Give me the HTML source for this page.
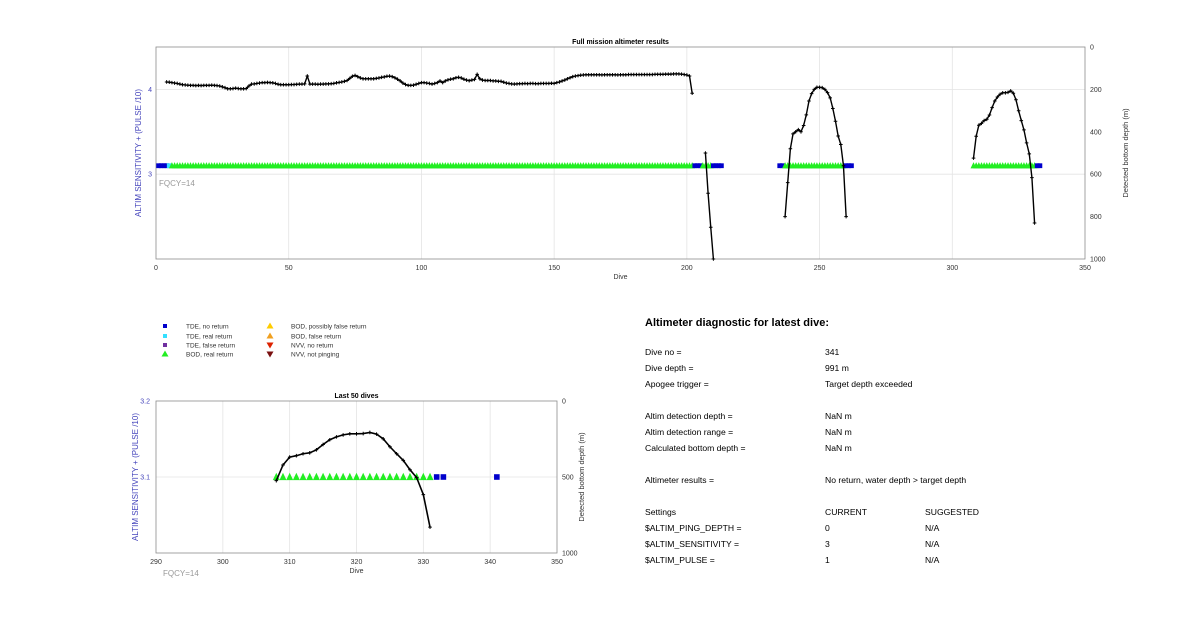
<!DOCTYPE html>
<html><head><meta charset="utf-8"><style>
html,body{margin:0;padding:0;background:#fff;width:1200px;height:622px;overflow:hidden;font-family:"Liberation Sans",sans-serif}
svg{position:absolute;left:0;top:0}
</style></head><body>
<svg id="svg" width="1200" height="622" viewBox="0 0 1200 622" font-family="Liberation Sans, sans-serif"></svg>
<script>
// ---- data ----
const topLineStart = 4;
const topLineDepths = [165,166,168,170,172,175,
178,179,180,181,181,182,181,182,181,181,
181,180,181,182,184,188,192,197,197,196,
194,196,197,197,196,184,175,174,172,170,
168,168,167,168,169,172,176,178,178,178,
178,177,177,176,175,175,174,137,175,175,
175,176,175,175,174,174,173,172,169,167,
165,162,158,148,138,134,140,146,150,150,
150,150,150,148,146,143,141,138,137,140,
145,152,160,170,177,181,181,180,176,172,
168,168,170,172,175,172,168,160,168,160,
155,152,150,145,143,146,152,156,159,156,
153,129,150,156,158,158,158,160,160,162,
162,166,170,172,174,175,174,173,173,172,
173,172,172,173,173,172,172,172,172,171,
172,168,165,160,156,150,145,140,137,135,
133,132,131,131,131,131,131,131,132,131,
131,131,131,131,132,131,131,131,130,130,
130,130,130,130,130,130,130,130,129,129,
129,129,128,128,128,127,127,127,128,130,
132,137,218];
const seg2Dives = [207,208,209,210];
const seg2Depths = [500,690,850,1000];
const seg3Dives = [237,238,239,240,241,242,243,244,245,246,247,248,249,250,251,252,253,254,255,256,257,258,259,260];
const seg3Depths = [800,640,480,410,400,390,400,370,320,255,220,200,190,190,192,200,215,240,290,350,420,460,560,800];
const seg4Dives = [308,309,310,311,312,313,314,315,316,317,318,319,320,321,322,323,324,325,326,327,328,329,330,331];
const seg4Depths = [524,421,369,360,347,341,321,286,255,236,223,216,216,214,207,218,249,301,347,391,452,504,616,830];
// marker runs: [firstDive, lastDive, type]
const markerRuns = [[1,4,'tdeNo'],[5,5,'tdeReal'],[6,202,'bodReal'],[203,205,'tdeNo'],[206,209,'bodReal'],[210,213,'tdeNo'],
[235,236,'tdeNo'],[237,259,'bodReal'],[260,262,'tdeNo'],[308,331,'bodReal'],[332,333,'tdeNo'],[341,341,'tdeNo']];
const markerValue = 3.1;
const topXTicks = [0,50,100,150,200,250,300,350];
const topLeftTicks = [3,4];
const rightTicks = [0,200,400,600,800,1000];
const botXTicks = [290,300,310,320,330,340,350];
const botLeftTicks = [3.1,3.2];
const botRightTicks = [0,500,1000];

const NS='http://www.w3.org/2000/svg';
const svg=document.getElementById('svg');
function el(tag,attrs,parent){const e=document.createElementNS(NS,tag);for(const k in attrs)e.setAttribute(k,attrs[k]);(parent||svg).appendChild(e);return e;}
function txt(s,x,y,attrs,parent){const t=el('text',Object.assign({x:x,y:y,'font-size':7,fill:'#333'},attrs),parent);t.textContent=s;return t;}
const colors={tdeNo:'#0000cc',tdeReal:'#33e0ff',bodReal:'#22ee22'};

function makeAxes(cfg){
  const g=el('g',{});
  
  
  const X=d=>cfg.x0+(d-cfg.xmin)/(cfg.xmax-cfg.xmin)*(cfg.x1-cfg.x0);
  const YL=v=>cfg.y1-(v-cfg.lmin)/(cfg.lmax-cfg.lmin)*(cfg.y1-cfg.y0);
  const YR=v=>cfg.y0+(v-cfg.rmin)/(cfg.rmax-cfg.rmin)*(cfg.y1-cfg.y0);
  cfg.xTicks.forEach(t=>{const x=X(t);
    if(t>cfg.xmin&&t<cfg.xmax){const l=el('line',{x1:x,x2:x,y1:cfg.y0,y2:cfg.y1,stroke:'#e4e4e4','stroke-width':0.8},g);}
    const tl=txt(String(t),x,cfg.y1+11,{'text-anchor':'middle'},g);});
  cfg.lTicks.forEach(t=>{const y=YL(t);
    if(y>cfg.y0+1){const l=el('line',{x1:cfg.x0,x2:cfg.x1,y1:y,y2:y,stroke:'#e4e4e4','stroke-width':0.8},g);}
    const tl=txt(String(t),cfg.x0-cfg.lto,y+2.5,{'text-anchor':'end',fill:'#4444bb'},g);});
  cfg.rTicks.forEach(t=>{const y=YR(t);
    const tl=txt(String(t),cfg.x1+5,y+2.5,{},g);});
  const r=el('rect',{x:cfg.x0,y:cfg.y0,width:cfg.x1-cfg.x0,height:cfg.y1-cfg.y0,fill:'none',stroke:'#8c8c8c','stroke-width':0.8},g);
  
  // markers
  const mg=el('g',{},g);
  const ym=YL(markerValue);const s=cfg.ms;
  markerRuns.forEach(run=>{for(let d=run[0];d<=run[1];d++){ if(d<cfg.dmin||d>cfg.dmax)continue;
    const x=X(d);let m;
    if(run[2]==='bodReal'){m=el('polygon',{points:`${x},${ym-s*0.6} ${x-s/2},${ym+s*0.45} ${x+s/2},${ym+s*0.45}`,fill:colors.bodReal},mg);}
    else{m=el('rect',{x:x-s*0.4,y:ym-s*0.4,width:s*0.8,height:s*0.8,fill:colors[run[2]]},mg);}
    }});
  // lines
  function line(dives,depths,name){
    const pts=dives.map((d,i)=>[X(d),YR(depths[i])]).filter(p=>p[0]>=cfg.x0-1);
    if(!pts.length)return;
    const p=el('polyline',{points:pts.map(p=>p.join(',')).join(' '),fill:'none',stroke:'#000','stroke-width':cfg.lw},g);
    
    pts.forEach(q=>{const k=el('path',{d:`M${q[0]-1.8},${q[1]}h3.6M${q[0]},${q[1]-1.8}v3.6`,stroke:'#000','stroke-width':1},g);
      });
  }
  cfg.lines.forEach((l,i)=>line(l[0],l[1],'depth-line-'+(i+1)));
  const tt=txt(cfg.title,(cfg.x0+cfg.x1)/2,cfg.y0-3,{'text-anchor':'middle','font-weight':'bold',fill:'#000'},g);
  const xl=txt('Dive',(cfg.x0+cfg.x1)/2,cfg.y1+20,{'text-anchor':'middle'},g);
  const cy=(cfg.y0+cfg.y1)/2;
  const ll=txt('ALTIM SENSITIVITY + (PULSE /10)',cfg.x0-cfg.ylo,cy,{'text-anchor':'middle',fill:'#4444bb','font-size':8,transform:`rotate(-90 ${cfg.x0-cfg.ylo} ${cy})`},g);
  const rl=txt('Detected bottom depth (m)',cfg.x1+cfg.yro,cy,{'text-anchor':'middle','font-size':7.5,transform:`rotate(-90 ${cfg.x1+cfg.yro} ${cy})`},g);
  const fq=txt('FQCY=14',cfg.fqx,cfg.fqy,{fill:'#999','font-size':8},g);
}
const topDives=topLineDepths.map((_,i)=>topLineStart+i);
makeAxes({name:'full-mission-chart',x0:156,x1:1085,y0:47,y1:259,xmin:0,xmax:350,lmin:2,lmax:4.5,rmin:0,rmax:1000,dmin:0,dmax:335,
  xTicks:topXTicks,lTicks:topLeftTicks,rTicks:rightTicks,ms:6,lw:1.4,title:'Full mission altimeter results',ylo:15,lto:4,yro:43,fqx:159,fqy:186,
  lines:[[topDives,topLineDepths],[seg2Dives,seg2Depths],[seg3Dives,seg3Depths],[seg4Dives,seg4Depths]]});
makeAxes({name:'last-50-dives-chart',x0:156,x1:557,y0:401,y1:553,xmin:290,xmax:350,lmin:3.0,lmax:3.2,rmin:0,rmax:1000,dmin:292,dmax:350,
  xTicks:botXTicks,lTicks:botLeftTicks,rTicks:botRightTicks,ms:7,lw:1.6,title:'Last 50 dives',ylo:18,lto:6,yro:27,fqx:163,fqy:576,
  lines:[[seg4Dives,seg4Depths]]});

// legend
const legendItems=[['TDE, no return','sq','#0000cc',165,326],['TDE, real return','sq','#33e0ff',165,336],['TDE, false return','sq','#7030a0',165,345],['BOD, real return','up','#22ee22',165,354],
['BOD, possibly false return','up','#ffcc00',270,326],['BOD, false return','up','#f0a020',270,336],['NVV, no return','dn','#dd2200',270,345],['NVV, not pinging','dn','#7a1010',270,354]];
const lg=el('g',{});
legendItems.forEach(it=>{const x=it[3],y=it[4];const e=el('g',{},lg);
  if(it[1]==='sq')el('rect',{x:x-2,y:y-2,width:4,height:4,fill:it[2]},e);
  else if(it[1]==='up')el('polygon',{points:`${x},${y-3.5} ${x-3.5},${y+2.5} ${x+3.5},${y+2.5}`,fill:it[2]},e);
  else el('polygon',{points:`${x},${y+3.5} ${x-3.5},${y-2.5} ${x+3.5},${y-2.5}`,fill:it[2]},e);
  txt(it[0],x+21,y+2.5,{'font-size':6.5},e);});

// diagnostic panel
const pg=el('g',{});
const h=txt('Altimeter diagnostic for latest dive:',645,326,{'font-size':11,'font-weight':'bold',fill:'#000'},pg);
const rows=[[352,'Dive no =','341',''],[368,'Dive depth =','991 m',''],[384,'Apogee trigger =','Target depth exceeded',''],
[416,'Altim detection depth =','NaN m',''],[432,'Altim detection range =','NaN m',''],[448,'Calculated bottom depth =','NaN m',''],
[480,'Altimeter results =','No return, water depth > target depth',''],[512,'Settings','CURRENT','SUGGESTED'],
[528,'$ALTIM_PING_DEPTH =','0','N/A'],[544,'$ALTIM_SENSITIVITY =','3','N/A'],[560,'$ALTIM_PULSE =','1','N/A']];
rows.forEach(r=>{const g=el('g',{},pg);
  txt(r[1],645,r[0]+3,{'font-size':8.6,fill:'#000'},g);txt(r[2],825,r[0]+3,{'font-size':8.6,fill:'#000'},g);if(r[3])txt(r[3],925,r[0]+3,{'font-size':8.6,fill:'#000'},g);});
</script>
</body></html>
